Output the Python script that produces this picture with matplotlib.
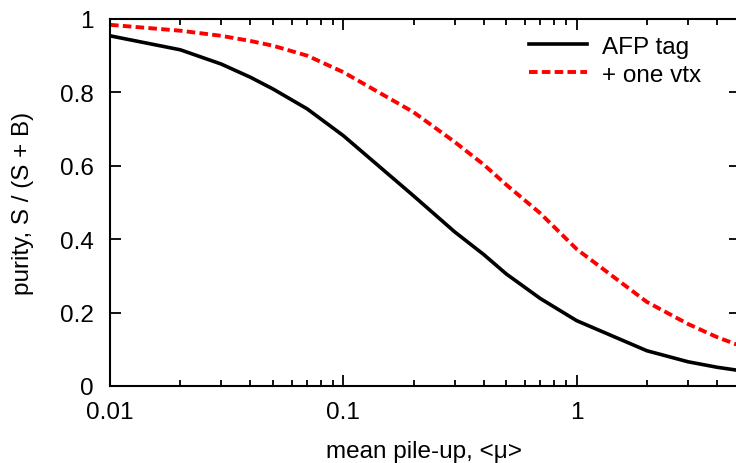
import matplotlib
matplotlib.use("Agg")
import matplotlib.pyplot as plt
from matplotlib.ticker import FixedLocator, FuncFormatter, LogLocator, NullFormatter

plt.rcParams['font.family'] = ['Liberation Sans', 'DejaVu Sans']
plt.rcParams['font.size'] = 17.5

# mean pile-up values
mu = [0.01, 0.02, 0.03, 0.04, 0.05, 0.07, 0.1, 0.2, 0.3, 0.4, 0.5, 0.7, 1, 2, 3, 4, 5]
# purity, AFP tag only
afp_tag = [0.954, 0.916, 0.877, 0.841, 0.809, 0.755, 0.682, 0.518, 0.420, 0.358,
           0.305, 0.238, 0.178, 0.096, 0.066, 0.051, 0.042]
# purity, AFP tag + one vertex
one_vtx = [0.984, 0.968, 0.954, 0.940, 0.927, 0.900, 0.855, 0.746, 0.665, 0.603,
           0.548, 0.470, 0.373, 0.229, 0.169, 0.133, 0.110]

fig = plt.figure(figsize=(7.36, 4.64), dpi=100)
ax = fig.add_axes([0.1495, 0.166, 1.005 - 0.1495, 0.957 - 0.166])

ax.plot(mu, afp_tag, '-', color='black', lw=2.6, label='AFP tag')
ax.plot(mu, one_vtx, '--', color='#ff0000', lw=2.8, dashes=(2.2, 1.1), label='+ one vtx')

ax.set_xscale('log')
ax.set_xlim(0.01, 5)
ax.set_ylim(0, 1)

ax.xaxis.set_major_locator(FixedLocator([0.01, 0.1, 1]))
ax.xaxis.set_major_formatter(FuncFormatter(lambda v, p: f"{v:g}"))
ax.xaxis.set_minor_locator(LogLocator(base=10, subs=range(2, 10)))
ax.xaxis.set_minor_formatter(NullFormatter())
ax.set_yticks([0, 0.2, 0.4, 0.6, 0.8, 1])
ax.yaxis.set_major_formatter(FuncFormatter(lambda v, p: f"{v:g}"))

ax.tick_params(which='both', direction='in', top=True, right=True, width=1.3, colors='black')
ax.tick_params(which='major', length=8, labelsize=17.5)
ax.tick_params(which='minor', length=4.5)
ax.tick_params(axis='x', which='major', pad=10.5)
ax.tick_params(axis='y', which='major', pad=11.5)
for s in ax.spines.values():
    s.set_linewidth(1.5)

ax.set_xlabel('mean pile-up, <μ>', fontsize=17.5, va='center')
ax.xaxis.set_label_coords(0.498, -0.177)
ax.set_ylabel('purity, S / (S + B)', fontsize=17.5, va='center')
ax.yaxis.set_label_coords(-0.138, 0.5)

ax.legend(loc='upper left', bbox_to_anchor=(519 / 736, 1 - 27 / 464),
          bbox_transform=fig.transFigure, frameon=False, fontsize=17.5,
          handlelength=2.4, handletextpad=0.6, labelspacing=0.25, borderaxespad=0.0)

fig.savefig('out.png', dpi=100)
